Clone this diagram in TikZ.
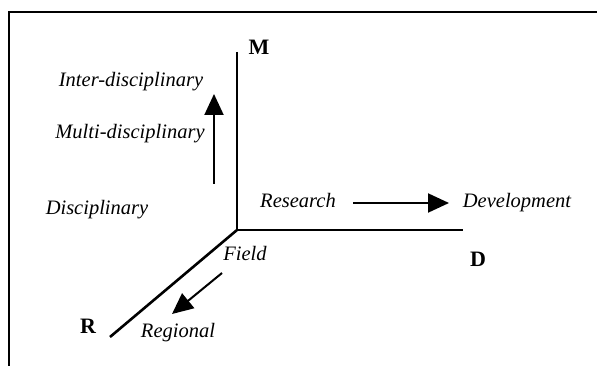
\documentclass[tikz,border=0pt]{standalone}
\usepackage{fontspec}
\setmainfont{Liberation Serif}
\usetikzlibrary{positioning,arrows.meta}

\begin{document}
\begin{tikzpicture}[x=1pt,y=-1pt,
                    axis/.style={line width=2.6pt},
                    frameline/.style={line width=2pt},
                    move/.style={line width=2pt,-{Triangle[length=21pt,width=19pt]}},
                    levtext/.style={inner sep=0pt,font={\fontsize{20.5}{23}\selectfont\itshape}},
                    axistext/.style={inner sep=0pt,font={\fontsize{22}{24}\selectfont\bfseries}}]
  \useasboundingbox (0,0) rectangle (597,366);
  % frame
  \coordinate (fbot) at (9,370);
  \coordinate (fcorner) at (9,12);
  \coordinate (fright) at (600,12);
  \draw[frameline] (fbot) -- (fcorner) -- (fright);
  % axes
  \coordinate (origin) at (237,230);
  \coordinate (mend) at (237,52);
  \coordinate (dend) at (463,230);
  \coordinate (rend) at (110,337);
  \draw[axis] (mend) -- (origin) -- (dend);
  \draw[axis] (origin) -- (rend);
  \node[axistext] (M) at (259,47) {M};
  \node[axistext] (D) at (478,259) {D};
  \node[axistext] (R) at (88,326) {R};
  % levels
  \node[levtext] (inter) at (131,82) {Inter-disciplinary};
  \node[levtext] (multi) at (130,134) {Multi-disciplinary};
  \node[levtext] (disc) at (97,210) {Disciplinary};
  \node[levtext] (research) at (298,200) {Research};
  \node[levtext] (devel) at (517,203) {Development};
  \node[levtext] (field) at (245,253) {Field};
  \node[levtext] (regional) at (178,333) {Regional};
  \coordinate (upfrom) at (214,184);
  \coordinate (upto) at (214,94);
  \coordinate (rdfrom) at (353,203);
  \coordinate (rdto) at (449,203);
  \coordinate (frfrom) at (222,273);
  \coordinate (frto) at (172,314);
  \draw[move] (upfrom) -- (upto);
  \draw[move] (rdfrom) -- (rdto);
  \draw[move] (frfrom) -- (frto);
\end{tikzpicture}
\end{document}
